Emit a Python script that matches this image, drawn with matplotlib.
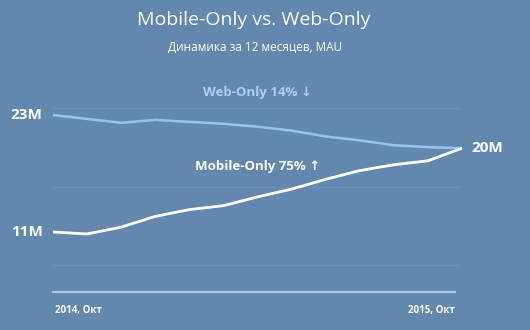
import matplotlib
matplotlib.use("Agg")
import matplotlib.pyplot as plt

# MAU, millions, Oct 2014 -> Oct 2015
months = list(range(13))
web_only = [23.0, 22.6, 22.2, 22.5, 22.3, 22.1, 21.8, 21.4, 20.8, 20.4, 19.9, 19.7, 19.6]
mobile_only = [11.0, 10.8, 11.5, 12.6, 13.3, 13.7, 14.6, 15.4, 16.4, 17.3, 17.9, 18.3, 19.6]
x_labels = ["2014, Окт", "2015, Окт"]
start_labels = ["23M", "11M"]
end_label = "20M"
grid_levels = [23.7, 15.6, 7.6]

BG = "#6288b0"
WEB = "#95c4ee"
FONT = ["Open Sans", "DejaVu Sans"]

plt.rcParams["font.family"] = FONT

fig = plt.figure(figsize=(5.3, 3.3), dpi=100, facecolor=BG)
ax = fig.add_axes([53 / 530, 1 - 292 / 330, (462 - 53) / 530, (292 - 100) / 330])
ax.set_facecolor(BG)
ax.set_xlim(0, 12)
ax.set_ylim(4.846, 24.54)
for s in ax.spines.values():
    s.set_visible(False)
ax.set_xticks([])
ax.set_yticks([])

for g in grid_levels:
    ax.axhline(g, xmin=0, xmax=0.995, color="#6b91b7", lw=0.9, zorder=1)
ax.axhline(4.846, xmin=0, xmax=0.983, color="#b0c6dc", lw=1.6, zorder=1, clip_on=False)

ax.plot(months, web_only, color=WEB, lw=1.8, zorder=3, solid_capstyle="round")
ax.plot(months, mobile_only, color="white", lw=2.0, zorder=4, solid_capstyle="round")

# value labels at both ends
ax.annotate(start_labels[0], (0, web_only[0]), xytext=(-7.5, 0), textcoords="offset points",
            ha="right", va="center", color="white", fontsize=11, fontweight="bold")
ax.annotate(start_labels[1], (0, mobile_only[0]), xytext=(-7.5, 0), textcoords="offset points",
            ha="right", va="center", color="white", fontsize=11, fontweight="bold")
ax.annotate(end_label, (12, mobile_only[-1]), xytext=(7, 0), textcoords="offset points",
            ha="left", va="center", color="white", fontsize=11, fontweight="bold")

# series names
ax.text(0.5, 1.04, "Web-Only 14% ↓", transform=ax.transAxes, ha="center", va="center",
        color="#a6d0f6", fontsize=9.5, fontweight="bold")
ax.text(6.0, 17.7, "Mobile-Only 75% ↑", ha="center", va="center",
        color="white", fontsize=9.5, fontweight="bold")

# x-axis end labels
ax.text(0.005, -0.095, x_labels[0], transform=ax.transAxes, ha="left", va="center",
        color="white", fontsize=7, fontweight="bold")
ax.text(0.983, -0.095, x_labels[1], transform=ax.transAxes, ha="right", va="center",
        color="white", fontsize=7, fontweight="bold")

fig.text(254 / 530, 1 - 20 / 330, "Mobile-Only vs. Web-Only", ha="center", va="center",
         color="white", fontsize=14)
fig.text(255 / 530, 1 - 47 / 330, "Динамика за 12 месяцев, MAU", ha="center", va="center",
         color="white", fontsize=8.5)

fig.savefig("out.png", dpi=100, facecolor=BG)
